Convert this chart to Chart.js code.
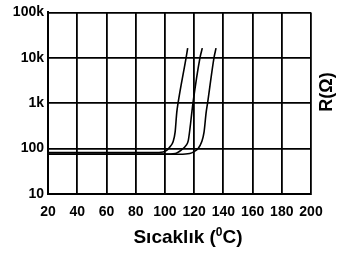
<!DOCTYPE html>
<html lang="tr">
<head>
<meta charset="UTF-8">
<title>PTC R-T</title>
<script src="https://cdn.jsdelivr.net/npm/chart.js"></script>
<style>
  html, body { margin: 0; padding: 0; background: #fff; }
  canvas { display: block; }
</style>
</head>
<body>
<canvas id="chart" width="347" height="257"></canvas>
<script>
// values (°C, ohm)
const temps1 = [20, 96, 101, 103.5, 105.6, 107, 108.1, 109, 114.5, 115.6];
const res1   = [82, 82, 90, 110, 141, 230, 613, 1000, 10000, 16300];

const temps2 = [20, 100, 107, 111.5, 114.5, 116, 117.3, 118.4, 119.2, 124, 125.6];
const res2   = [76, 76, 78, 95, 118, 150, 300, 613, 1000, 10000, 16300];

const temps3 = [20, 110, 117, 120, 122.7, 125.2, 126.8, 128.2, 129.2, 133.6, 135];
const res3   = [75, 75, 78, 86, 100, 141, 230, 613, 1000, 10000, 16300];

const yTicks = [10, 100, 1000, 10000, 100000];
const yLabels = ["10", "100", "1k", "10k", "100k"];
const xTitle = "Sıcaklık (";
const xTitleSup = "0";
const xTitleEnd = "C)";
const yTitle = "R(Ω)";

const FONT = "'Liberation Sans', Arial, sans-serif";

function pts(xs, ys) {
  return xs.map((x, i) => ({ x: x, y: ys[i] }));
}

function curve(xs, ys) {
  return {
    data: pts(xs, ys),
    borderColor: "#000",
    borderWidth: 1.6,
    pointRadius: 0,
    fill: false,
    cubicInterpolationMode: "monotone"
  };
}

// axis titles drawn by hand so they sit where the original has them
const titles = {
  id: "titles",
  afterDraw(chart) {
    const c = chart.ctx;
    c.save();
    c.fillStyle = "#000";
    c.textBaseline = "alphabetic";
    c.font = "bold 19px " + FONT;
    const w1 = c.measureText(xTitle).width;
    c.font = "bold 12px " + FONT;
    const w2 = c.measureText(xTitleSup).width;
    c.font = "bold 19px " + FONT;
    const w3 = c.measureText(xTitleEnd).width;
    let x = 188 - (w1 + w2 + w3) / 2;
    const base = 243;
    c.fillText(xTitle, x, base);
    x += w1;
    c.font = "bold 12px " + FONT;
    c.fillText(xTitleSup, x, base - 7);
    x += w2;
    c.font = "bold 19px " + FONT;
    c.fillText(xTitleEnd, x, base);

    c.translate(327, 92);
    c.rotate(-Math.PI / 2);
    c.textAlign = "center";
    c.textBaseline = "middle";
    c.font = "bold 18px " + FONT;
    c.fillText(yTitle, 0, 0);
    c.restore();
  }
};

new Chart(document.getElementById("chart"), {
  type: "line",
  data: {
    datasets: [curve(temps1, res1), curve(temps2, res2), curve(temps3, res3)]
  },
  options: {
    responsive: false,
    animation: false,
    layout: { padding: { top: 6, right: 36, left: 0, bottom: 0 } },
    plugins: { legend: { display: false }, tooltip: { enabled: false } },
    scales: {
      x: {
        type: "linear",
        min: 20,
        max: 200,
        grid: { color: "#000", lineWidth: 1.8, drawTicks: false },
        border: { color: "#000", width: 2 },
        ticks: {
          stepSize: 20,
          padding: 10,
          color: "#000",
          maxRotation: 0,
          font: { family: FONT, size: 14, weight: "bold" }
        },
        afterFit(s) { s.height = 63; }
      },
      y: {
        type: "logarithmic",
        min: 10,
        max: 100000,
        grid: { color: "#000", lineWidth: 1.8, drawTicks: false },
        border: { color: "#000", width: 2 },
        afterBuildTicks(s) {
          s.ticks = yTicks.map(v => ({ value: v, major: true }));
        },
        ticks: {
          padding: 4,
          color: "#000",
          font: { family: FONT, size: 14, weight: "bold" },
          callback(v) {
            const i = yTicks.indexOf(v);
            return i >= 0 ? yLabels[i] : "";
          }
        },
        afterFit(s) { s.width = 48; }
      }
    }
  },
  plugins: [titles]
});
</script>
</body>
</html>
